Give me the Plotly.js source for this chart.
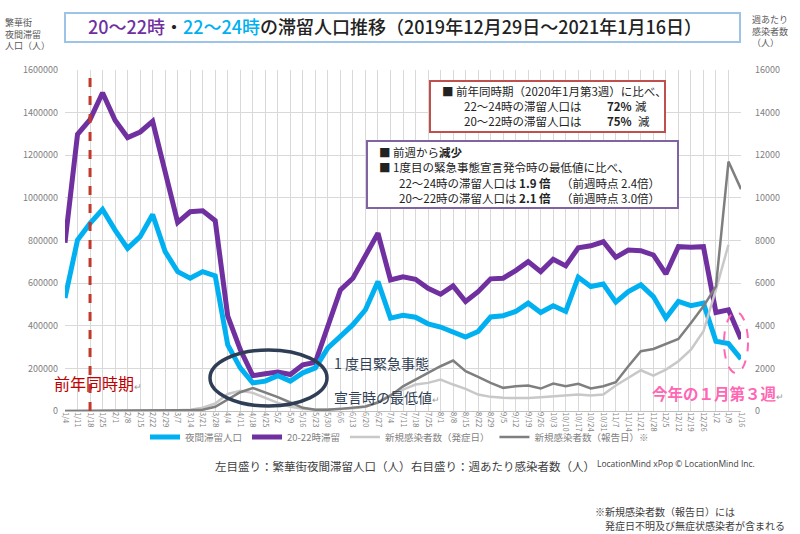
<!DOCTYPE html>
<html><head><meta charset="utf-8">
<script src="https://cdn.plot.ly/plotly-3.0.1.min.js"></script>
<style>html,body{margin:0;padding:0;background:#fff}#chart{width:800px;height:534px}</style>
</head><body><div id="chart"></div>
<script>
const weeks = ["1/4","1/11","1/18","1/25","2/1","2/8","2/15","2/22","2/29","3/7","3/14","3/21","3/28","4/4","4/11","4/18","4/25","5/2","5/9","5/16","5/23","5/30","6/6","6/13","6/20","6/27","7/4","7/11","7/18","7/25","8/1","8/8","8/15","8/22","8/29","9/5","9/12","9/19","9/26","10/3","10/10","10/17","10/24","10/31","11/7","11/14","11/21","11/28","12/5","12/12","12/19","12/26","1/2","1/9","1/16"];
const stay2022 = [790000,1298000,1367000,1493000,1364000,1283000,1309000,1359000,1122000,885000,935000,939000,893000,
  445000,288000,166000,175000,183000,171000,217000,228000,390000,568000,623000,724000,834000,
  615000,630000,618000,
  576000,548000,587000,514000,560000,620000,623000,659000,701000,654000,712000,681000,766000,
  775000,794000,721000,755000,752000,732000,643000,771000,768000,771000,462000,475000,338000];
const stay2224 = [530000,802000,880000,946000,849000,763000,818000,922000,748000,654000,623000,654000,634000,
  310000,202000,132000,140000,166000,140000,179000,202000,296000,350000,405000,475000,607000,
  436000,449000,440000,
  409000,394000,373000,347000,373000,441000,447000,467000,506000,462000,494000,467000,628000,
  584000,596000,511000,560000,592000,537000,436000,514000,494000,506000,327000,316000,244000];
const casesOnset = [0,0,0,0,5,10,15,20,30,40,60,150,350,
  800,950,850,600,380,200,100,60,60,90,130,200,420,
  760,1007,1241,
  1320,1476,1241,1038,773,663,617,617,609,648,695,742,773,
  726,773,1195,1554,1913,1663,1944,2335,2881,3740,5692,7800,null];
const casesReport = [0,0,0,0,5,10,10,15,20,30,40,60,200,
  520,880,1080,880,650,400,150,60,60,100,150,210,400,
  720,1160,1476,
  1757,2100,2366,1866,1602,1320,1086,1162,1195,1054,1288,1162,1274,
  1062,1162,1350,2100,2803,2912,3162,3381,4131,4911,5849,11704,10410];
const seriesNames = ["夜間滞留人口","20-22時滞留","新規感染者数（発症日）","新規感染者数（報告日）※"];
const leftTicks = [0,200000,400000,600000,800000,1000000,1200000,1400000,1600000];
const rightTicks = [0,2000,4000,6000,8000,10000,12000,14000,16000];

const idx = weeks.map((w,i)=>i);
const FONT = "Noto Sans CJK JP, Noto Sans, sans-serif";
const L=65,R=59,T=70,B=123,W=800-L-R,H=534-T-B;
const px = x => (x-L)/W;
const py = y => (534-B-y)/H;

const traces = [
  {x:idx,y:casesOnset,name:seriesNames[2],type:'scatter',mode:'lines',yaxis:'y2',legendrank:3,
   line:{color:'#c8c8c8',width:2.5},connectgaps:false,hoverinfo:'skip'},
  {x:idx,y:casesReport,name:seriesNames[3],type:'scatter',mode:'lines',yaxis:'y2',legendrank:4,
   line:{color:'#7f7f7f',width:2.5},hoverinfo:'skip'},
  {x:idx,y:stay2022,name:seriesNames[1],type:'scatter',mode:'lines',legendrank:2,
   line:{color:'#7030a0',width:5},hoverinfo:'skip'},
  {x:idx,y:stay2224,name:seriesNames[0],type:'scatter',mode:'lines',legendrank:1,
   line:{color:'#00b0f0',width:5},hoverinfo:'skip'}
];

function ann(x,y,text,opt){
  return Object.assign({xref:'paper',yref:'paper',x:px(x),y:py(y),text:text,showarrow:false,borderpad:0,
    xanchor:'left',yanchor:'middle',align:'left',font:{family:FONT,size:11.5,color:'#222'}},opt||{});
}
const annotations = [
  ann(4,34,'繁華街<br>夜間滞留<br>人口（人）',{font:{family:FONT,size:9,color:'#595959'}}),
  ann(751,31,'週あたり<br>感染者数<br>（人）',{font:{family:FONT,size:9,color:'#595959'}}),
  ann(53,383,'前年同時期<span style="font-size:9px;fill:#999">↵</span>',{font:{family:FONT,size:16,color:'#c00000'}}),
  ann(333,363,'1 度目緊急事態',{font:{family:FONT,size:14,color:'#2f3e55'}}),
  ann(333,397,'宣言時の最低値<span style="font-size:9px;fill:#999">↵</span>',{font:{family:FONT,size:14,color:'#2f3e55'}}),
  ann(651,393,'<b>今年の１月第３週</b><span style="font-size:9px;fill:#999">↵</span>',{font:{family:FONT,size:15.5,color:'#ff66b3'}}),
  ann(441,91,'■ 前年同時期（2020年1月第3週）に比べ、'),
  ann(463,106,'22～24時の滞留人口は'),
  ann(606,106,'<b>72%</b>'),
  ann(634,106,'減'),
  ann(463,121,'20～22時の滞留人口は'),
  ann(606,121,'<b>75%</b>'),
  ann(637,121,'減'),
  ann(378,152,'■ 前週から<b>減少</b>'),
  ann(378,167,'■ 1度目の緊急事態宣言発令時の最低値に比べ、'),
  ann(398,183,'22～24時の滞留人口は <b>1.9 倍</b>'),
  ann(560,183,'（前週時点 2.4倍）'),
  ann(398,198,'20～22時の滞留人口は <b>2.1 倍</b>'),
  ann(560,198,'（前週時点 3.0倍）'),
  ann(214,466,'左目盛り：繁華街夜間滞留人口（人）',{font:{family:FONT,size:11.5,color:'#404040'}}),
  ann(410,466,'右目盛り：週あたり感染者数（人）',{font:{family:FONT,size:11.5,color:'#404040'}}),
  ann(596,463,'LocationMind xPop © LocationMind Inc.',{font:{family:'Open Sans, sans-serif',size:8.5,color:'#404040'}}),
  ann(594,511,'※新規感染者数（報告日）には',{font:{family:FONT,size:10,color:'#404040'}}),
  ann(604,525,'発症日不明及び無症状感染者が含まれる',{font:{family:FONT,size:10,color:'#404040'}})
];

function rect(x0,y0,x1,y1,color,width,extra){
  return Object.assign({type:'rect',xref:'paper',yref:'paper',x0:px(x0),x1:px(x1),y0:py(y1),y1:py(y0),
    line:{color:color,width:width},fillcolor:'#fff',layer:'above'},extra||{});
}
const shapes = [
  rect(65,13,740,42,'#9dc3e6',2),
  rect(430,81,665,132,'#c0504d',2),
  rect(367,141,678,208,'#8064a2',2),
  {type:'line',xref:'x',yref:'paper',x0:2,x1:2,y0:0,y1:py(72),line:{color:'#c0392b',width:3,dash:'dash'},layer:'above'},
  {type:'circle',xref:'paper',yref:'paper',x0:px(210),x1:px(327),y0:py(406),y1:py(350),line:{color:'#2f3e55',width:3.5},layer:'above'},
  {type:'circle',xref:'paper',yref:'paper',x0:px(724),x1:px(748),y0:py(373),y1:py(312),line:{color:'#ff66b3',width:2,dash:'dash'},layer:'above'}
];

const layout = {
  width:800,height:534,margin:{l:L,r:R,t:T,b:B,pad:0},
  paper_bgcolor:'#fff',plot_bgcolor:'#fff',
  font:{family:FONT,color:'#595959'},
  title:{text:'<span style="fill:#7030a0">20～22時</span>・<span style="fill:#00b0f0">22～24時</span>の滞留人口推移（2019年12月29日～2021年1月16日）',
    x:395/800,xanchor:'center',y:1-28/534,yanchor:'middle',font:{family:FONT,size:18,color:'#222',weight:500}},
  xaxis:{range:[0,54],tickmode:'array',tickvals:idx,ticktext:weeks,tickangle:90,
    tickfont:{size:7.5,color:'#7f7f7f'},showgrid:true,gridcolor:'#d9d9d9',gridwidth:1,
    zeroline:false,showline:false,ticks:'',automargin:false,fixedrange:true},
  yaxis:{range:[0,1600000],tickmode:'array',tickvals:leftTicks,ticktext:leftTicks.map(String),
    tickfont:{size:9,color:'#7f7f7f'},showgrid:true,gridcolor:'#d9d9d9',zeroline:true,zerolinecolor:'#bfbfbf',
    showline:false,ticks:'',automargin:false,ticklabelstandoff:6},
  yaxis2:{range:[0,16000],overlaying:'y',side:'right',tickmode:'array',tickvals:rightTicks,ticktext:rightTicks.map(String),
    tickfont:{size:9,color:'#7f7f7f'},showgrid:false,zeroline:false,showline:false,ticks:'',automargin:false,ticklabelstandoff:13},
  showlegend:true,
  legend:{orientation:'h',x:px(145),xanchor:'left',y:py(437),yanchor:'middle',
    font:{family:FONT,size:9.5,color:'#7f7f7f'},bgcolor:'rgba(0,0,0,0)',itemwidth:30,tracegroupgap:0},
  annotations:annotations,shapes:shapes
};
Plotly.newPlot('chart',traces,layout,{staticPlot:true,displayModeBar:false});
</script></body></html>
